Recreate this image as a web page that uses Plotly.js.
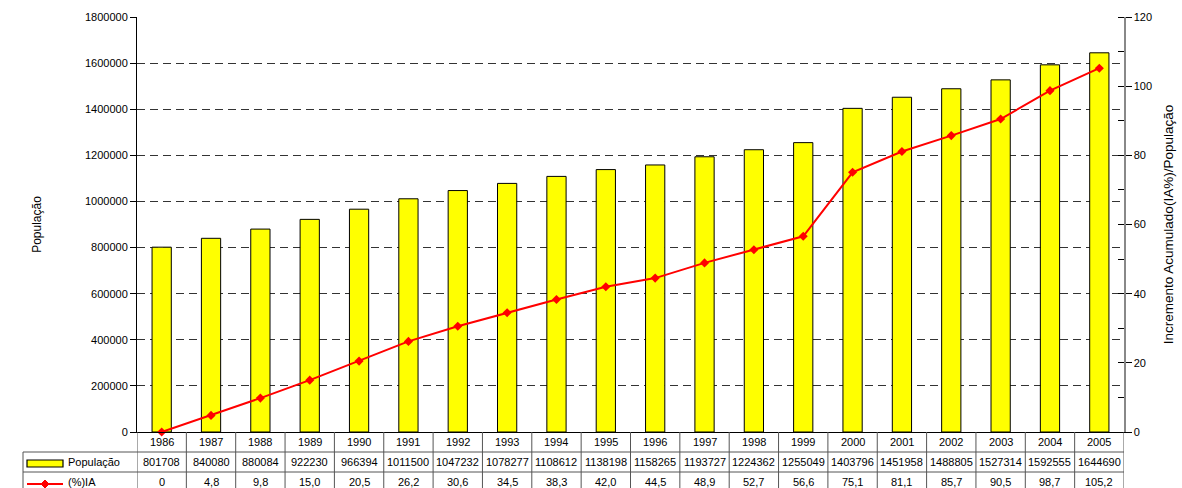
<!DOCTYPE html>
<html>
<head>
<meta charset="utf-8">
<script src="https://cdn.plot.ly/plotly-3.0.1.min.js"></script>
<style>html,body{margin:0;padding:0;background:#fff;}#chart{width:1182px;height:488px;}</style>
</head>
<body>
<div id="chart"></div>
<script>
const years = ["1986","1987","1988","1989","1990","1991","1992","1993","1994","1995","1996","1997","1998","1999","2000","2001","2002","2003","2004","2005"];
const populacao = [801708,840080,880084,922230,966394,1011500,1047232,1078277,1108612,1138198,1158265,1193727,1224362,1255049,1403796,1451958,1488805,1527314,1592555,1644690];
const ia = [0,4.8,9.8,15.0,20.5,26.2,30.6,34.5,38.3,42.0,44.5,48.9,52.7,56.6,75.1,81.1,85.7,90.5,98.7,105.2];
const popLabel = "População";
const iaLabel = "(%)IA";

const W = 1182, H = 488, L = 137, R = 58, T = 17, B = 56;
const pw = W - L - R, ph = H - T - B;
const px = x => (x - L) / pw;
const py = y => (H - B - y) / ph;
const fmtIA = v => v === 0 ? "0" : v.toFixed(1).replace('.', ',');

const font = {family: "Liberation Sans, Arial, sans-serif", size: 11, color: "#000"};

const bars = {
  type: 'bar', x: years, y: populacao, name: popLabel,
  marker: {color: '#FFFF00', line: {color: '#000', width: 1}},
  hoverinfo: 'x+y'
};
const line = {
  type: 'scatter', mode: 'lines+markers', x: years, y: ia, yaxis: 'y2', name: iaLabel,
  line: {color: '#FF0000', width: 2},
  marker: {symbol: 'diamond', size: 7, color: '#FF0000'},
  cliponaxis: false
};

const shapes = [];
const annotations = [];
const lineStyle = {color: '#555', width: 1};
for (let k = 0; k <= years.length; k++) {
  shapes.push({type: 'line', xref: 'x', yref: 'paper', x0: k - 0.5, x1: k - 0.5, y0: 0, y1: py(H + 2), line: lineStyle});
}
shapes.push({type: 'line', xref: 'paper', yref: 'paper', x0: px(23), x1: px(23), y0: py(452), y1: py(H + 2), line: lineStyle});
[452, 472].forEach(yy => shapes.push({type: 'line', xref: 'paper', yref: 'paper', x0: px(23), x1: 1, y0: py(yy), y1: py(yy), line: lineStyle}));
shapes.push({type: 'rect', xref: 'paper', yref: 'paper', x0: px(27), x1: px(63), y0: py(460), y1: py(467), fillcolor: '#FFFF00', line: {color: '#000', width: 1.2}});
shapes.push({type: 'line', xref: 'paper', yref: 'paper', x0: px(27), x1: px(63), y0: py(484), y1: py(484), line: {color: '#FF0000', width: 2}});
shapes.push({type: 'path', xref: 'paper', yref: 'paper',
  path: `M ${px(45)},${py(480)} L ${px(49)},${py(484)} L ${px(45)},${py(488)} L ${px(41)},${py(484)} Z`,
  fillcolor: '#FF0000', line: {color: '#FF0000', width: 1}});

years.forEach((yr, i) => {
  annotations.push({xref: 'x', yref: 'paper', x: i, y: py(442), text: yr, showarrow: false, font: font, yanchor: 'middle'});
  annotations.push({xref: 'x', yref: 'paper', x: i, y: py(462), text: String(populacao[i]), showarrow: false, font: font, yanchor: 'middle'});
  annotations.push({xref: 'x', yref: 'paper', x: i, y: py(482), text: fmtIA(ia[i]), showarrow: false, font: font, yanchor: 'middle'});
});
annotations.push({xref: 'paper', yref: 'paper', x: px(66), y: py(462), text: popLabel, showarrow: false, font: font, xanchor: 'left', yanchor: 'middle'});
annotations.push({xref: 'paper', yref: 'paper', x: px(66), y: py(482), text: iaLabel, showarrow: false, font: font, xanchor: 'left', yanchor: 'middle'});

const layout = {
  width: W, height: H,
  margin: {l: L, r: R, t: T, b: B, pad: 0},
  paper_bgcolor: '#fff', plot_bgcolor: '#fff',
  showlegend: false,
  bargap: 0.61,
  font: font,
  xaxis: {type: 'category', showticklabels: false, ticks: '', showgrid: false, showline: true, linecolor: '#000', linewidth: 1, zeroline: false, range: [-0.5, 19.5]},
  yaxis: {
    range: [0, 1800000], dtick: 200000, tick0: 0, tickformat: 'd',
    ticks: 'outside', ticklen: 6, tickcolor: '#000',
    showline: true, linecolor: '#000', linewidth: 1,
    showgrid: true, gridcolor: '#333', gridwidth: 1, griddash: '8px,5px',
    zeroline: false, tickfont: font,
    title: {text: 'População', font: {family: font.family, size: 12, color: '#000'}, standoff: 40}
  },
  yaxis2: {
    overlaying: 'y', side: 'right', range: [0, 120], dtick: 20, tick0: 0,
    ticks: 'outside', ticklen: 6, tickcolor: '#000',
    minor: {dtick: 10, ticks: 'inside', ticklen: 6, tickcolor: '#000'},
    showline: true, linecolor: '#888', linewidth: 1.5,
    showgrid: false, zeroline: false, tickfont: font,
    title: {text: 'Incremento Acumulado(IA%)/População', font: {family: font.family, size: 13.5, color: '#000'}, standoff: 12}
  },
  shapes: shapes,
  annotations: annotations
};

Plotly.newPlot('chart', [bars, line], layout, {displayModeBar: false, staticPlot: true});
</script>
</body>
</html>
